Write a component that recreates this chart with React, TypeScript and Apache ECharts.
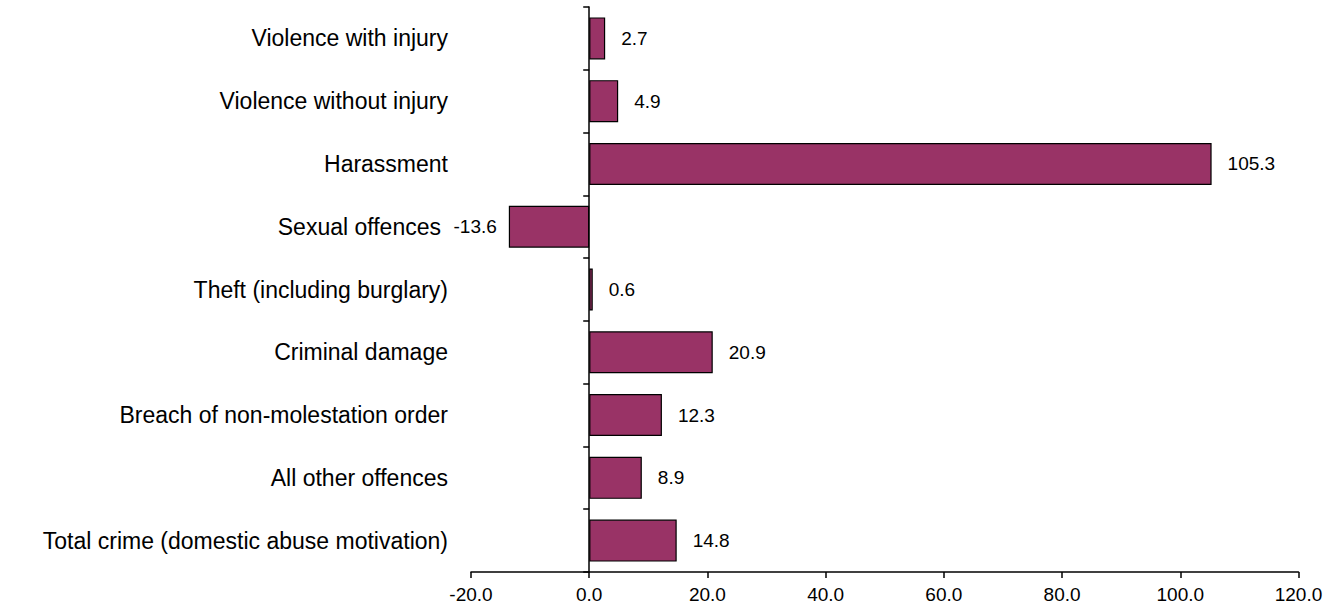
import React, { useEffect, useRef } from "react";
import * as echarts from "echarts";

// Percentage change by offence type (domestic abuse-related)
const categories: string[] = [
  "Violence with injury",
  "Violence without injury",
  "Harassment",
  "Sexual offences",
  "Theft (including burglary)",
  "Criminal damage",
  "Breach of non-molestation order",
  "All other offences",
  "Total crime (domestic abuse motivation)",
];

const values: number[] = [2.7, 4.9, 105.3, -13.6, 0.6, 20.9, 12.3, 8.9, 14.8];

const xMin = -20;
const xMax = 120;
const xStep = 20;

const BAR_COLOR = "#993366";
const FONT = "Arial, 'Liberation Sans', sans-serif";

export default function App() {
  const ref = useRef<HTMLDivElement>(null);

  useEffect(() => {
    if (!ref.current) return;
    const chart = echarts.init(ref.current, undefined, { renderer: "svg" });

    const barData = values.map((v) => ({
      value: v,
      label: {
        position: v < 0 ? "left" : "right",
        distance: v < 0 ? 12 : 16,
      },
    }));

    chart.setOption({
      animation: false,
      backgroundColor: "#ffffff",
      grid: {
        left: 471,
        right: 41.5,
        top: 7,
        bottom: 38,
        containLabel: false,
        outerBoundsMode: "none",
      },
      xAxis: {
        type: "value",
        min: xMin,
        max: xMax,
        interval: xStep,
        splitLine: { show: false },
        axisLine: { show: true, onZero: false, lineStyle: { color: "#000", width: 1.5 } },
        axisTick: { show: true, length: 6, lineStyle: { color: "#000", width: 1.5 } },
        axisLabel: {
          color: "#000",
          fontFamily: FONT,
          fontSize: 19,
          margin: 13,
          formatter: (v: number) => v.toFixed(1),
        },
      },
      yAxis: {
        type: "category",
        data: categories,
        inverse: true,
        axisLine: { show: true, onZero: true, lineStyle: { color: "#000", width: 1.5 } },
        axisTick: { show: true, length: 6, lineStyle: { color: "#000", width: 1.5 } },
        axisLabel: {
          color: "#000",
          fontFamily: FONT,
          fontSize: 23,
          margin: 23,
          formatter: (v: string) => (v === "Sexual offences" ? `{s|${v}}` : v),
          rich: {
            s: { fontFamily: FONT, fontSize: 23, color: "#000", padding: [0, 7, 0, 0] },
          },
        },
      },
      series: [
        {
          type: "bar",
          data: barData,
          barWidth: 42,
          itemStyle: { color: BAR_COLOR, borderColor: "#000", borderWidth: 1.2 },
          label: {
            show: true,
            color: "#000",
            fontFamily: FONT,
            fontSize: 19,
            formatter: (p: any) => Number(p.value).toFixed(1),
          },
        },
      ],
    });

    return () => chart.dispose();
  }, []);

  return (
    <div
      ref={ref}
      style={{ position: "fixed", left: 0, top: 0, width: 1340, height: 610, background: "#fff" }}
    />
  );
}
